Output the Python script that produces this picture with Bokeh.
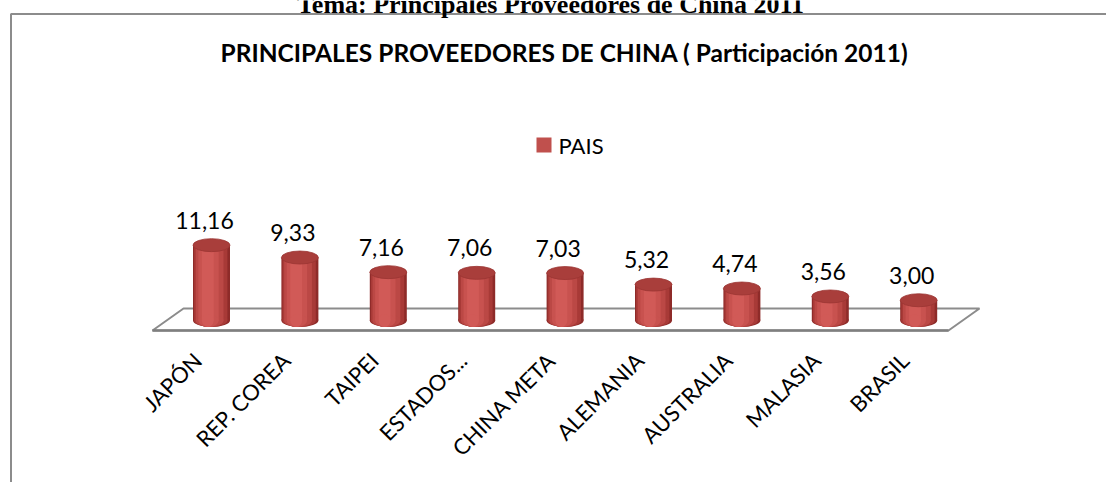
import math
from bokeh.plotting import figure
from bokeh.models import Range1d
from bokeh.core.properties import value
from bokeh.embed import file_html
from bokeh.resources import INLINE

# ---------------- data ----------------
categories = ["JAPÓN", "REP. COREA", "TAIPEI", "ESTADOS...", "CHINA META",
              "ALEMANIA", "AUSTRALIA", "MALASIA", "BRASIL"]
values = [11.16, 9.33, 7.16, 7.06, 7.03, 5.32, 4.74, 3.56, 3.00]
value_labels = ["11,16", "9,33", "7,16", "7,06", "7,03", "5,32", "4,74", "3,56", "3,00"]
series_name = "PAIS"
chart_title = "PRINCIPALES PROVEEDORES DE CHINA ( Participación 2011)"
page_title = "Tema: Principales Proveedores de China 2011"

# ---------------- layout (pixels in figure space) ----------------
W, H = 1106, 482
X0_PX, STEP_PX = 211.0, 88.4      # centre of first bar, spacing
Y0_PX, UNIT_PX = 320.0, 6.75      # pixel row of value 0, pixels per unit
BAR_PX = 37.0
CAP_H = 13

def dx(px):  # pixel x -> data x
    return (px - X0_PX) / STEP_PX

def dy(py):  # pixel y -> data y
    return (Y0_PX - py) / UNIT_PX

p = figure(width=W, height=H, output_backend="svg", toolbar_location=None,
           x_range=Range1d(dx(0), dx(W)), y_range=Range1d(dy(H), dy(0)),
           min_border=0, background_fill_color="white", border_fill_color="white")
p.axis.visible = False
p.grid.visible = False
p.outline_line_color = None

xs = list(range(len(categories)))
FONT = value("Lato")

# outer box (left and top border)
p.line(x=[dx(10.5), dx(10.5), dx(W)], y=[dy(H), dy(13.5), dy(13.5)],
       line_color="#8c8c8c", line_width=2)

# page heading (cut off at top, as in the source document)
p.text(x=[dx(550)], y=[dy(4)], text=[page_title], text_font=value("Liberation Serif"),
       text_font_style="bold", text_font_size="26px", text_align="center",
       text_baseline="alphabetic", text_color="black")

# chart title
p.text(x=[dx(564)], y=[dy(52)], text=[chart_title], text_font=FONT,
       text_font_style="bold", text_font_size="24.5px", text_align="center",
       text_baseline="middle", text_color="black")

# legend
p.rect(x=[dx(543.5)], y=[dy(144.5)], width=15, height=15, width_units="screen",
       height_units="screen", fill_color="#c0504d", line_color=None)
p.text(x=[dx(558)], y=[dy(144.5)], text=[series_name], text_font=FONT,
       text_font_size="22px", text_align="left", text_baseline="middle",
       text_color="black")

# floor
fl_x = [dx(152), dx(183), dx(979), dx(948)]
fl_y = [dy(330), dy(308), dy(308), dy(330)]
p.patch(x=fl_x, y=fl_y, fill_color="white", line_color="#8c8c8c", line_width=2)
p.line(x=[dx(152), dx(948)], y=[dy(330), dy(330)], line_color="#7f7f7f", line_width=2.5)

# cylinders: layered strips for shading
layers = [(1.00, 0.0, "#8e2b29"), (0.90, -0.02, "#a83a37"), (0.75, -0.05, "#bb4845"),
          (0.55, -0.08, "#c8524f"), (0.32, -0.10, "#d15a57")]
zeros = [0] * len(xs)
for frac, shift, col in layers:
    wpx = BAR_PX * frac
    xx = [x + shift * BAR_PX / STEP_PX for x in xs]
    p.vbar(x=xx, top=values, bottom=zeros, width=wpx / STEP_PX,
           fill_color=col, line_color=None)
    p.ellipse(x=xx, y=zeros, width=wpx, height=CAP_H, width_units="screen",
              height_units="screen", fill_color=col, line_color=None)
# top caps
p.ellipse(x=xs, y=values, width=BAR_PX, height=CAP_H, width_units="screen",
          height_units="screen", fill_color="#a93e3b", line_color="#9a3532", line_width=0.8)

# value labels
lbl_x = [x - 7 / STEP_PX for x in xs]
lbl_y = [v + 25 / UNIT_PX for v in values]
p.text(x=lbl_x, y=lbl_y, text=value_labels, text_font=FONT, text_font_size="23px",
       text_align="center", text_baseline="middle", text_color="black")

# category labels (rotated)
cat_x = [x - 14 / STEP_PX for x in xs]
cat_y = [dy(356)] * len(xs)
p.text(x=cat_x, y=cat_y, text=categories, text_font=FONT, text_font_size="22px",
       angle=math.pi / 4, text_align="right", text_baseline="middle", text_color="black")

open("out.html", "w").write(file_html(p, INLINE))
